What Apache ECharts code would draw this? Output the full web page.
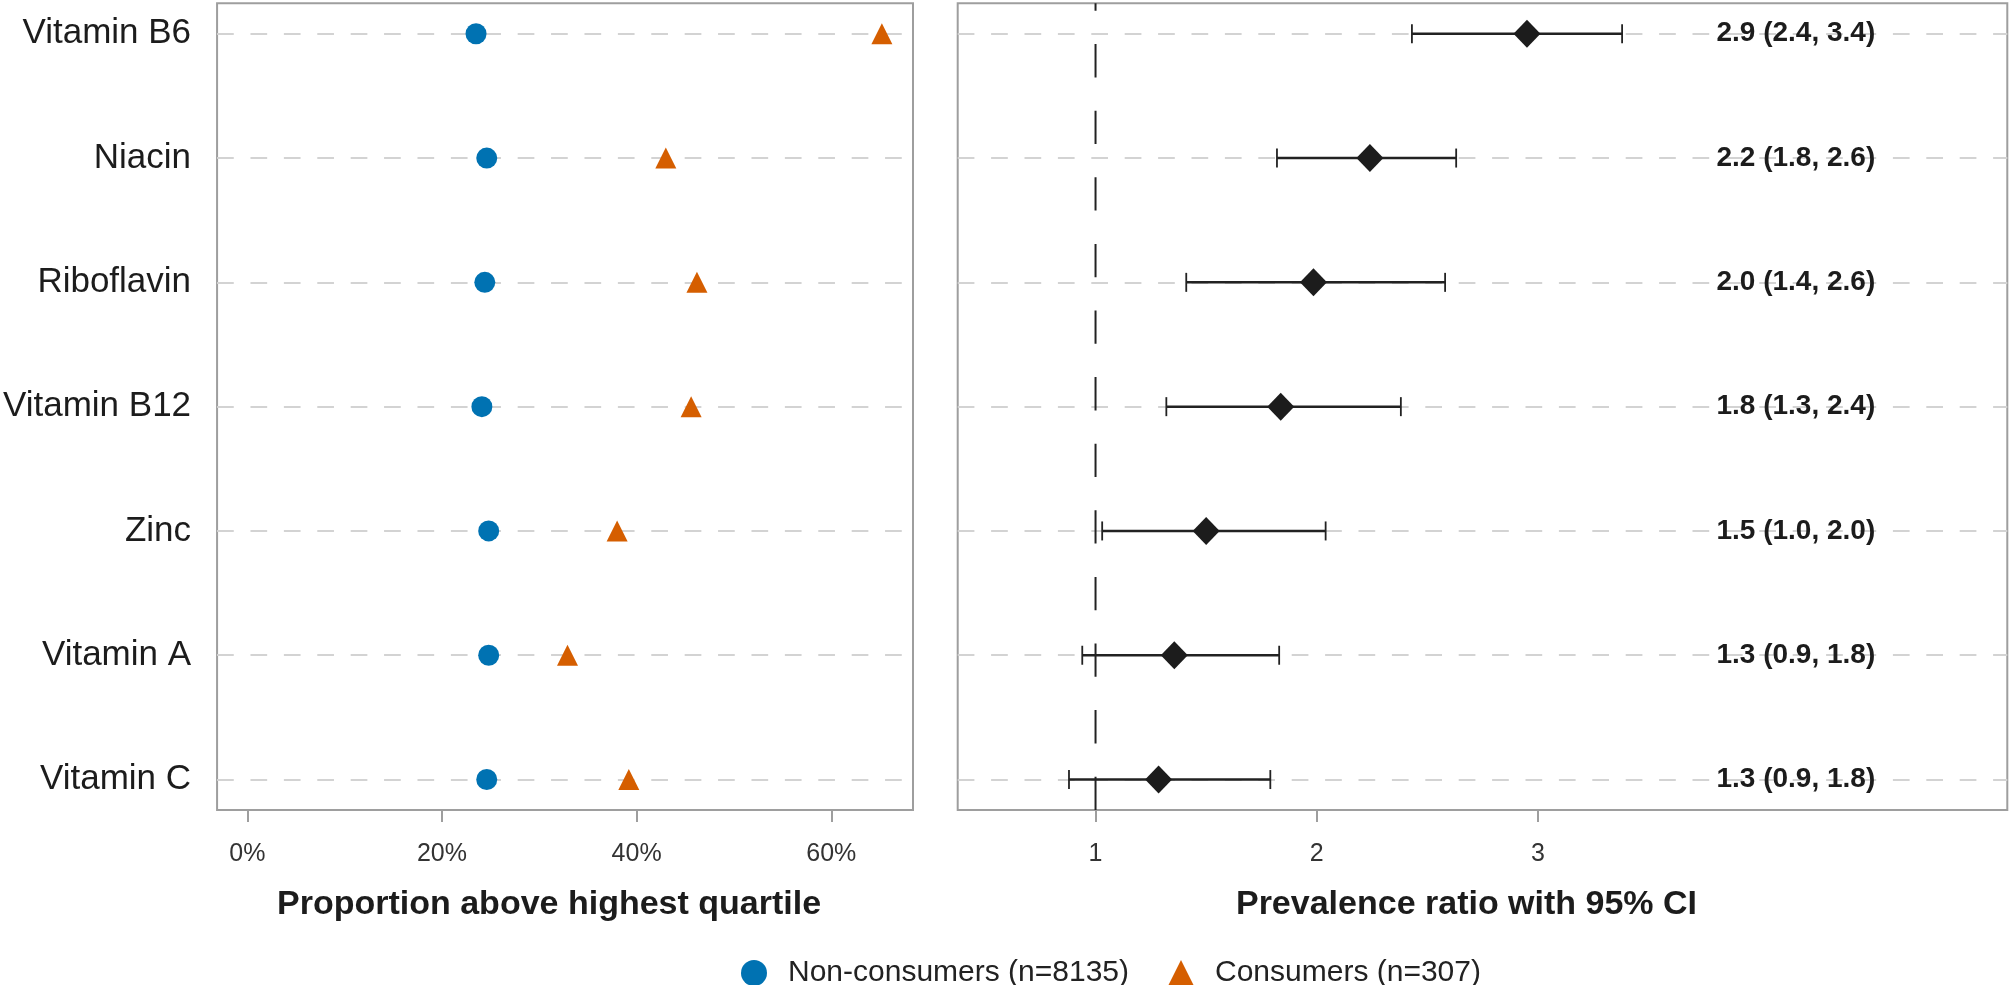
<!DOCTYPE html>
<html>
<head>
<meta charset="utf-8">
<script src="https://cdn.jsdelivr.net/npm/echarts@6/dist/echarts.min.js"></script>
<style>
html,body{margin:0;padding:0;background:#fff;}
#chart{width:2009px;height:985px;}
</style>
</head>
<body>
<div id="chart"></div>
<script>
const categories = ['Vitamin B6','Niacin','Riboflavin','Vitamin B12','Zinc','Vitamin A','Vitamin C'];
const nonConsumers = [23.5, 24.6, 24.4, 24.1, 24.8, 24.8, 24.6];
const consumers = [65.2, 43.0, 46.2, 45.6, 38.0, 32.9, 39.2];
const prEstimate = [2.95, 2.24, 1.985, 1.837, 1.50, 1.356, 1.285];
const prLower = [2.43, 1.82, 1.41, 1.32, 1.03, 0.94, 0.88];
const prUpper = [3.38, 2.63, 2.58, 2.38, 2.04, 1.83, 1.79];
const prLabels = ['2.9 (2.4, 3.4)','2.2 (1.8, 2.6)','2.0 (1.4, 2.6)','1.8 (1.3, 2.4)','1.5 (1.0, 2.0)','1.3 (0.9, 1.8)','1.3 (0.9, 1.8)'];
const leftTicks = [0, 20, 40, 60];
const rightTicks = [1, 2, 3];
const refValue = 1;
const seriesNames = ['Non-consumers (n=8135)', 'Consumers (n=307)'];

const FONT = 'Liberation Sans, Arial, Helvetica, sans-serif';
const rowIdx = categories.map((c, i) => i);
const yMin = -0.245, yMax = categories.length - 1 + 0.245;

function yAxisCfg(gridIndex, showLabels) {
  return {
    type: 'value', gridIndex, inverse: true, min: yMin, max: yMax,
    axisLine: {show: false, onZero: false},
    axisTick: {show: false, customValues: rowIdx},
    axisLabel: {
      show: showLabels, customValues: rowIdx,
      formatter: v => categories[Math.round(v)],
      fontFamily: FONT, fontSize: 35, color: '#1c1c1c', margin: 26
    },
    splitLine: {show: true, lineStyle: {color: '#d3d3d3', width: 2, type: [16.7, 16.7]}}
  };
}

function xAxisCfg(gridIndex, min, max, ticks, fmt, name) {
  return {
    type: 'value', gridIndex, min, max, position: 'bottom',
    axisLine: {show: false, onZero: false},
    axisTick: {show: true, customValues: ticks, length: 12, lineStyle: {color: '#9e9e9e', width: 2}},
    axisLabel: {customValues: ticks, formatter: fmt, fontFamily: FONT, fontSize: 25, color: '#333', margin: 32},
    splitLine: {show: false},
    name, nameLocation: 'middle', nameGap: 78,
    nameTextStyle: {fontFamily: FONT, fontSize: 34, fontWeight: 'bold', color: '#1c1c1c', padding: [0, 32, 0, 0]}
  };
}

const option = {
  backgroundColor: '#fff',
  animation: false,
  grid: [
    {left: 216.5, top: 3.3, width: 696.5, height: 806.7, show: true, borderColor: '#9e9e9e', borderWidth: 2, backgroundColor: 'transparent'},
    {left: 957.7, top: 3.3, width: 1049.6, height: 806.7, show: true, borderColor: '#9e9e9e', borderWidth: 2, backgroundColor: 'transparent'}
  ],
  xAxis: [
    xAxisCfg(0, -3.11, 68.4, leftTicks, v => v + '%', 'Proportion above highest quartile'),
    xAxisCfg(1, 0.377, 5.121, rightTicks, v => String(v), 'Prevalence ratio with 95% CI')
  ],
  yAxis: [yAxisCfg(0, true), yAxisCfg(1, false)],
  legend: {
    left: 736, top: 953,
    itemWidth: 26, itemHeight: 26, itemGap: 39,
    textStyle: {fontFamily: FONT, fontSize: 30, color: '#222', padding: [0, 0, 0, 16]},
    data: [{name: seriesNames[0], icon: 'circle'}, {name: seriesNames[1], icon: 'triangle'}]
  },
  series: [
    {
      name: seriesNames[0], type: 'scatter', xAxisIndex: 0, yAxisIndex: 0,
      symbol: 'circle', symbolSize: 21, itemStyle: {color: '#0072B2', opacity: 1}, z: 5,
      data: nonConsumers.map((v, i) => [v, i])
    },
    {
      name: seriesNames[1], type: 'scatter', xAxisIndex: 0, yAxisIndex: 0,
      symbol: 'triangle', symbolSize: 21, itemStyle: {color: '#D55E00', opacity: 1}, z: 5,
      data: consumers.map((v, i) => [v, i])
    },
    {
      name: 'ref', type: 'line', xAxisIndex: 1, yAxisIndex: 1, symbol: 'none', z: 2,
      lineStyle: {color: '#222', width: 2, type: [33.3, 33.3]},
      data: [[refValue, yMax], [refValue, yMin]], silent: true
    },
    {
      name: 'ci', type: 'custom', xAxisIndex: 1, yAxisIndex: 1, z: 3,
      encode: {x: [1, 2], y: 0},
      data: prLower.map((lo, i) => [i, lo, prUpper[i]]),
      renderItem: function (params, api) {
        const y = api.value(0), lo = api.value(1), hi = api.value(2);
        const p1 = api.coord([lo, y]), p2 = api.coord([hi, y]);
        const h = 9.5;
        const st = {stroke: '#222', lineWidth: 2.5};
        const cs = {stroke: '#222', lineWidth: 1.8};
        return {type: 'group', children: [
          {type: 'line', shape: {x1: p1[0], y1: p1[1], x2: p2[0], y2: p2[1]}, style: st},
          {type: 'line', shape: {x1: p1[0], y1: p1[1] - h, x2: p1[0], y2: p1[1] + h}, style: cs},
          {type: 'line', shape: {x1: p2[0], y1: p2[1] - h, x2: p2[0], y2: p2[1] + h}, style: cs}
        ]};
      }
    },
    {
      name: 'pr', type: 'scatter', xAxisIndex: 1, yAxisIndex: 1, z: 4,
      symbol: 'diamond', symbolSize: [27, 28], itemStyle: {color: '#1c1c1c', opacity: 1},
      data: prEstimate.map((v, i) => [v, i])
    },
    {
      name: 'prLabel', type: 'scatter', xAxisIndex: 1, yAxisIndex: 1, z: 6,
      symbolSize: 0, silent: true, itemStyle: {opacity: 1},
      label: {
        show: true, position: 'left', distance: 0,
        formatter: p => prLabels[p.dataIndex],
        fontFamily: FONT, fontSize: 28, fontWeight: 'bold', color: '#1c1c1c'
      },
      data: rowIdx.map(i => [4.524, i])
    }
  ]
};

const chart = echarts.init(document.getElementById('chart'));
chart.setOption(option);
</script>
</body>
</html>
